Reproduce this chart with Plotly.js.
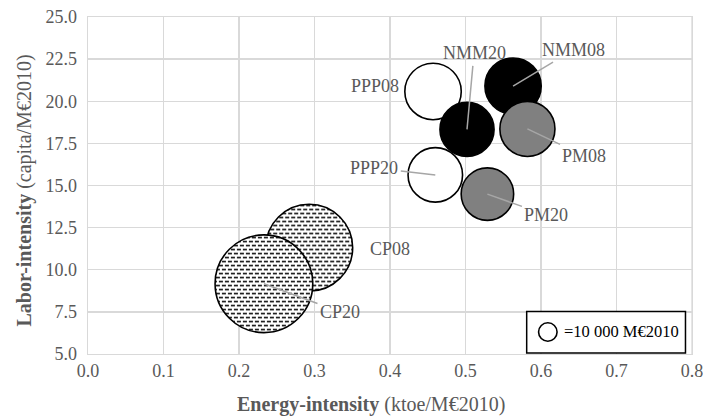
<!DOCTYPE html>
<html>
<head>
<meta charset="utf-8">
<script src="https://cdn.plot.ly/plotly-3.0.1.min.js"></script>
<style>html,body{margin:0;padding:0;background:#fff;}#chart{width:703px;height:417px;}</style>
</head>
<body>
<div id="chart"></div>
<script>
// Data
var labels = ["PPP08", "NMM08", "NMM20", "PM08", "PPP20", "PM20", "CP08", "CP20"];
var energyIntensity = [0.457, 0.563, 0.502, 0.582, 0.460, 0.529, 0.293, 0.233];
var laborIntensity = [20.58, 20.90, 18.33, 18.36, 15.63, 14.49, 11.31, 9.17];
var valueAdded = [104000, 103500, 95600, 99100, 97000, 90000, 246600, 311700]; // M€2010
var fillColors = ["#ffffff", "#000000", "#000000", "#808080", "#ffffff", "#808080", "#ffffff", "#ffffff"];
var patterned = [false, false, false, false, false, false, true, true];
var legendValue = 10000;
var legendLabel = "=10 000 M€2010";
var xTicks = [0, 0.1, 0.2, 0.3, 0.4, 0.5, 0.6, 0.7, 0.8];
var yTicks = [5, 7.5, 10, 12.5, 15, 17.5, 20, 22.5, 25];

// label offsets (px) of each label from its bubble, and whether a leader line is drawn
var labelDx = [-58, 60, 7, 57, -61, 59, 81, 76];
var labelDy = [-5, -36, -76, 27, -7, 21, 1, 28];
var leader = [false, true, true, true, true, true, false, true];

var SIZEREF = 65.3; // area mode: 10 000 -> ~17.5 px diameter
var legendRadius = Math.sqrt(legendValue / (2 * SIZEREF));

var serif = "Liberation Serif, Times New Roman, serif";
var grey = "#595959";

var trace = {
  type: "scatter",
  mode: "markers",
  x: energyIntensity,
  y: laborIntensity,
  text: labels,
  hoverinfo: "text",
  marker: {
    size: valueAdded,
    sizemode: "area",
    sizeref: SIZEREF,
    color: fillColors,
    opacity: 1,
    line: {color: "#000000", width: 1.6}
  },
  showlegend: false
};

var annotations = labels.map(function (t, i) {
  return {
    x: energyIntensity[i], y: laborIntensity[i], xref: "x", yref: "y",
    text: t, showarrow: true, arrowhead: 0, arrowwidth: 1.5,
    arrowcolor: leader[i] ? "#a6a6a6" : "rgba(0,0,0,0)",
    ax: labelDx[i], ay: labelDy[i], standoff: 0, startstandoff: 1,
    font: {family: serif, size: 18, color: grey}
  };
});

// axis titles
annotations.push({
  xref: "paper", yref: "paper", x: 0.4685, y: -0.151, xanchor: "center", yanchor: "middle",
  showarrow: false, text: "<b>Energy-intensity</b> (ktoe/M€2010)",
  font: {family: serif, size: 20, color: grey}
});
annotations.push({
  xref: "paper", yref: "paper", x: -0.105, y: 0.484, xanchor: "center", yanchor: "middle",
  showarrow: false, textangle: -90, text: "<b>Labor-intensity</b> (capita/M€2010)",
  font: {family: serif, size: 20, color: grey}
});
// size key text
annotations.push({
  xref: "paper", yref: "paper", x: 0.784, y: 0.0653, xanchor: "left", yanchor: "middle",
  showarrow: false, text: legendLabel,
  font: {family: serif, size: 16.5, color: "#000000"}
});

var shapes = [
  {type: "line", xref: "paper", yref: "paper", x0: 1, x1: 1, y0: 0, y1: 1,
   line: {color: "#d9d9d9", width: 1.3}, layer: "below"},
  {type: "rect", xref: "paper", yref: "paper", x0: 0.7263, x1: 0.9892, y0: 0.003, y1: 0.126,
   line: {color: "#000000", width: 1.5}, fillcolor: "#ffffff", layer: "above"},
  {type: "circle", xref: "paper", yref: "paper", xsizemode: "pixel", ysizemode: "pixel",
   xanchor: 0.7613, yanchor: 0.0653,
   x0: -legendRadius - 0.5, x1: legendRadius + 0.5, y0: -legendRadius - 0.5, y1: legendRadius + 0.5,
   line: {color: "#000000", width: 1.6}, fillcolor: "#ffffff", layer: "above"}
];

var layout = {
  width: 703, height: 417,
  margin: {l: 88, r: 11, t: 17, b: 63},
  paper_bgcolor: "#ffffff", plot_bgcolor: "#ffffff",
  font: {family: serif, size: 18, color: grey},
  xaxis: {
    range: [0, 0.8], tickvals: xTicks, ticktext: xTicks.map(function (v) { return v.toFixed(1); }),
    showgrid: true, gridcolor: "#d9d9d9", gridwidth: 1.3, zeroline: false,
    showline: true, linecolor: "#d9d9d9", linewidth: 1.3, mirror: true,
    ticks: "", ticklen: 0, ticklabeloverflow: "allow",
    tickfont: {family: serif, size: 18, color: grey}
  },
  yaxis: {
    range: [5, 25], tickvals: yTicks, ticktext: yTicks.map(function (v) { return v.toFixed(1); }),
    showgrid: true, gridcolor: "#d9d9d9", gridwidth: 1.3, zeroline: false,
    showline: true, linecolor: "#d9d9d9", linewidth: 1.3, mirror: true,
    ticks: "outside", ticklen: 6, tickcolor: "rgba(0,0,0,0)", ticklabeloverflow: "allow",
    tickfont: {family: serif, size: 18, color: grey}
  },
  annotations: annotations,
  shapes: shapes,
  showlegend: false
};

Plotly.newPlot("chart", [trace], layout, {displayModeBar: false, staticPlot: true}).then(function (gd) {
  var svgNS = "http://www.w3.org/2000/svg";
  var svg = gd.querySelector(".main-svg");
  var defs = svg.querySelector("defs") || svg.insertBefore(document.createElementNS(svgNS, "defs"), svg.firstChild);
  var pat = document.createElementNS(svgNS, "pattern");
  pat.setAttribute("id", "hdash");
  pat.setAttribute("patternUnits", "userSpaceOnUse");
  pat.setAttribute("width", "6");
  pat.setAttribute("height", "8");
  var bg = document.createElementNS(svgNS, "rect");
  bg.setAttribute("x", "0"); bg.setAttribute("y", "0"); bg.setAttribute("width", "6"); bg.setAttribute("height", "8");
  bg.setAttribute("fill", "#ffffff");
  pat.appendChild(bg);
  [[0, 1, 4], [3, 5, 3], [0, 5, 1]].forEach(function (p) {
    var r = document.createElementNS(svgNS, "rect");
    r.setAttribute("x", p[0]); r.setAttribute("y", p[1]);
    r.setAttribute("width", p[2]); r.setAttribute("height", "1.5");
    r.setAttribute("fill", "#000000");
    pat.appendChild(r);
  });
  defs.appendChild(pat);
  var pts = gd.querySelectorAll(".scatterlayer .trace path.point");
  pts.forEach(function (el, i) {
    if (patterned[i]) { el.style.fill = "url(#hdash)"; }
  });
});
</script>
</body>
</html>
